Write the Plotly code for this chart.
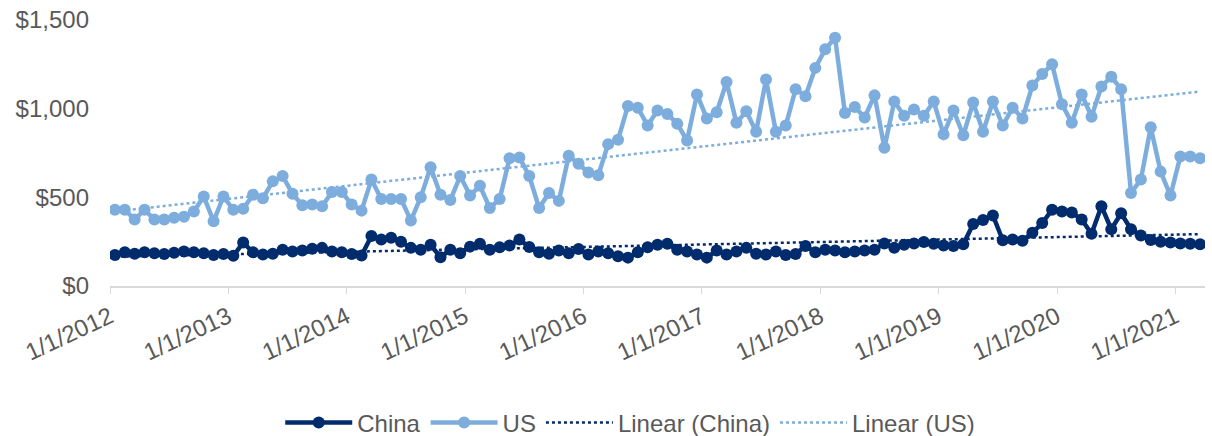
import numpy as np
import pandas as pd
import plotly.graph_objects as go

# Monthly values, Jan 2012 – Mar 2021
months = pd.date_range("2012-01-01", "2021-03-01", freq="MS")

china = [
    175, 190, 182, 190, 185, 180, 188, 195, 190, 185, 175, 180,   # 2012
    170, 245, 190, 178, 182, 205, 195, 200, 210, 215, 195, 190,   # 2013
    180, 172, 282, 262, 272, 250, 215, 205, 232, 162, 205, 185,   # 2014
    222, 238, 205, 218, 228, 262, 220, 190, 182, 200, 185, 208,   # 2015
    178, 195, 185, 168, 160, 190, 218, 232, 238, 205, 195, 178,   # 2016
    160, 200, 178, 195, 215, 182, 178, 195, 175, 180, 225, 190,   # 2017
    205, 200, 190, 195, 200, 205, 240, 215, 232, 240, 248, 238,   # 2018
    228, 225, 235, 350, 372, 398, 258, 262, 255, 300, 355, 430,   # 2019
    420, 415, 375, 295, 450, 320, 410, 320, 285, 260, 250, 245,   # 2020
    240, 238, 235,                                                # 2021
]

us = [
    430, 430, 375, 430, 375, 375, 385, 390, 420, 505, 365, 505,           # 2012
    430, 435, 515, 495, 590, 620, 520, 455, 460, 450, 530, 530,           # 2013
    460, 425, 600, 490, 490, 490, 370, 500, 670, 515, 485, 620,           # 2014
    510, 565, 440, 490, 720, 725, 620, 440, 525, 480, 735, 690,           # 2015
    640, 625, 800, 825, 1015, 1005, 905, 990, 970, 915, 820, 1080,        # 2016
    945, 980, 1150, 920, 985, 870, 1165, 870, 905, 1110, 1070, 1230,      # 2017
    1335, 1400, 975, 1010, 950, 1075, 780, 1040, 960, 995, 960, 1040,     # 2018
    855, 990, 850, 1035, 870, 1040, 905, 1005, 945, 1130, 1195, 1250,     # 2019
    1025, 920, 1080, 955, 1125, 1180, 1110, 525, 600, 895, 645, 510,      # 2020
    730, 730, 720,                                                        # 2021
]

y_ticks = [0, 500, 1000, 1500]
y_tick_labels = ["$0", "$500", "$1,000", "$1,500"]

CHINA_COLOR = "#002B6C"
US_COLOR = "#7DADDD"
TEXT_COLOR = "#595959"
AXIS_COLOR = "#D9D9D9"
FONT = "Liberation Sans, Arial, sans-serif"
FONT_SIZE = 24

idx = np.arange(len(months))

# Least-squares trend for each series
def linear_fit(values):
    slope, intercept = np.polyfit(idx, np.asarray(values, dtype=float), 1)
    return intercept + slope * idx

# Year ticks sit on the boundaries between monthly categories
year_starts = [i for i, m in enumerate(months) if m.month == 1]
tick_vals = [i - 0.5 for i in year_starts]
tick_text = [f"{months[i].month}/{months[i].day}/{months[i].year}" for i in year_starts]

fig = go.Figure()

fig.add_trace(go.Scatter(
    x=idx, y=linear_fit(china), name="Linear (China)", mode="lines",
    line=dict(color=CHINA_COLOR, width=2.5, dash="dot"), legendrank=3,
    hoverinfo="skip",
))
fig.add_trace(go.Scatter(
    x=idx, y=linear_fit(us), name="Linear (US)", mode="lines",
    line=dict(color=US_COLOR, width=2.5, dash="dot"), legendrank=4,
    hoverinfo="skip",
))
fig.add_trace(go.Scatter(
    x=idx, y=us, name="US", mode="lines+markers",
    line=dict(color=US_COLOR, width=4.5), marker=dict(size=12, color=US_COLOR),
    legendrank=2,
))
fig.add_trace(go.Scatter(
    x=idx, y=china, name="China", mode="lines+markers",
    line=dict(color=CHINA_COLOR, width=4.5), marker=dict(size=12, color=CHINA_COLOR),
    legendrank=1,
))

fig.update_layout(
    width=1212, height=436,
    margin=dict(l=110, r=7, t=20, b=150, autoexpand=False),
    paper_bgcolor="white", plot_bgcolor="white",
    font=dict(family=FONT, size=FONT_SIZE, color=TEXT_COLOR),
    showlegend=True,
    legend=dict(
        orientation="h", x=0.52, xanchor="center", xref="container",
        y=1 - 423 / 436, yanchor="middle", yref="container",
        font=dict(size=FONT_SIZE, color=TEXT_COLOR), itemwidth=67,
        traceorder="normal",
    ),
    xaxis=dict(
        range=[-0.5, len(months) - 0.5], automargin=False,
        tickmode="array", tickvals=tick_vals, ticktext=tick_text,
        tickangle=-25, ticks="outside", ticklen=6, tickcolor=AXIS_COLOR,
        showline=True, linecolor=AXIS_COLOR, linewidth=1.5,
        showgrid=False, zeroline=False,
        tickfont=dict(size=FONT_SIZE, color=TEXT_COLOR),
    ),
    yaxis=dict(
        range=[0, 1500], tickvals=y_ticks, ticktext=y_tick_labels,
        automargin=False,
        showgrid=False, zeroline=False, showline=False,
        ticks="", ticklabelstandoff=20,
        tickfont=dict(size=FONT_SIZE, color=TEXT_COLOR),
    ),
)

fig.write_html("out.html")
